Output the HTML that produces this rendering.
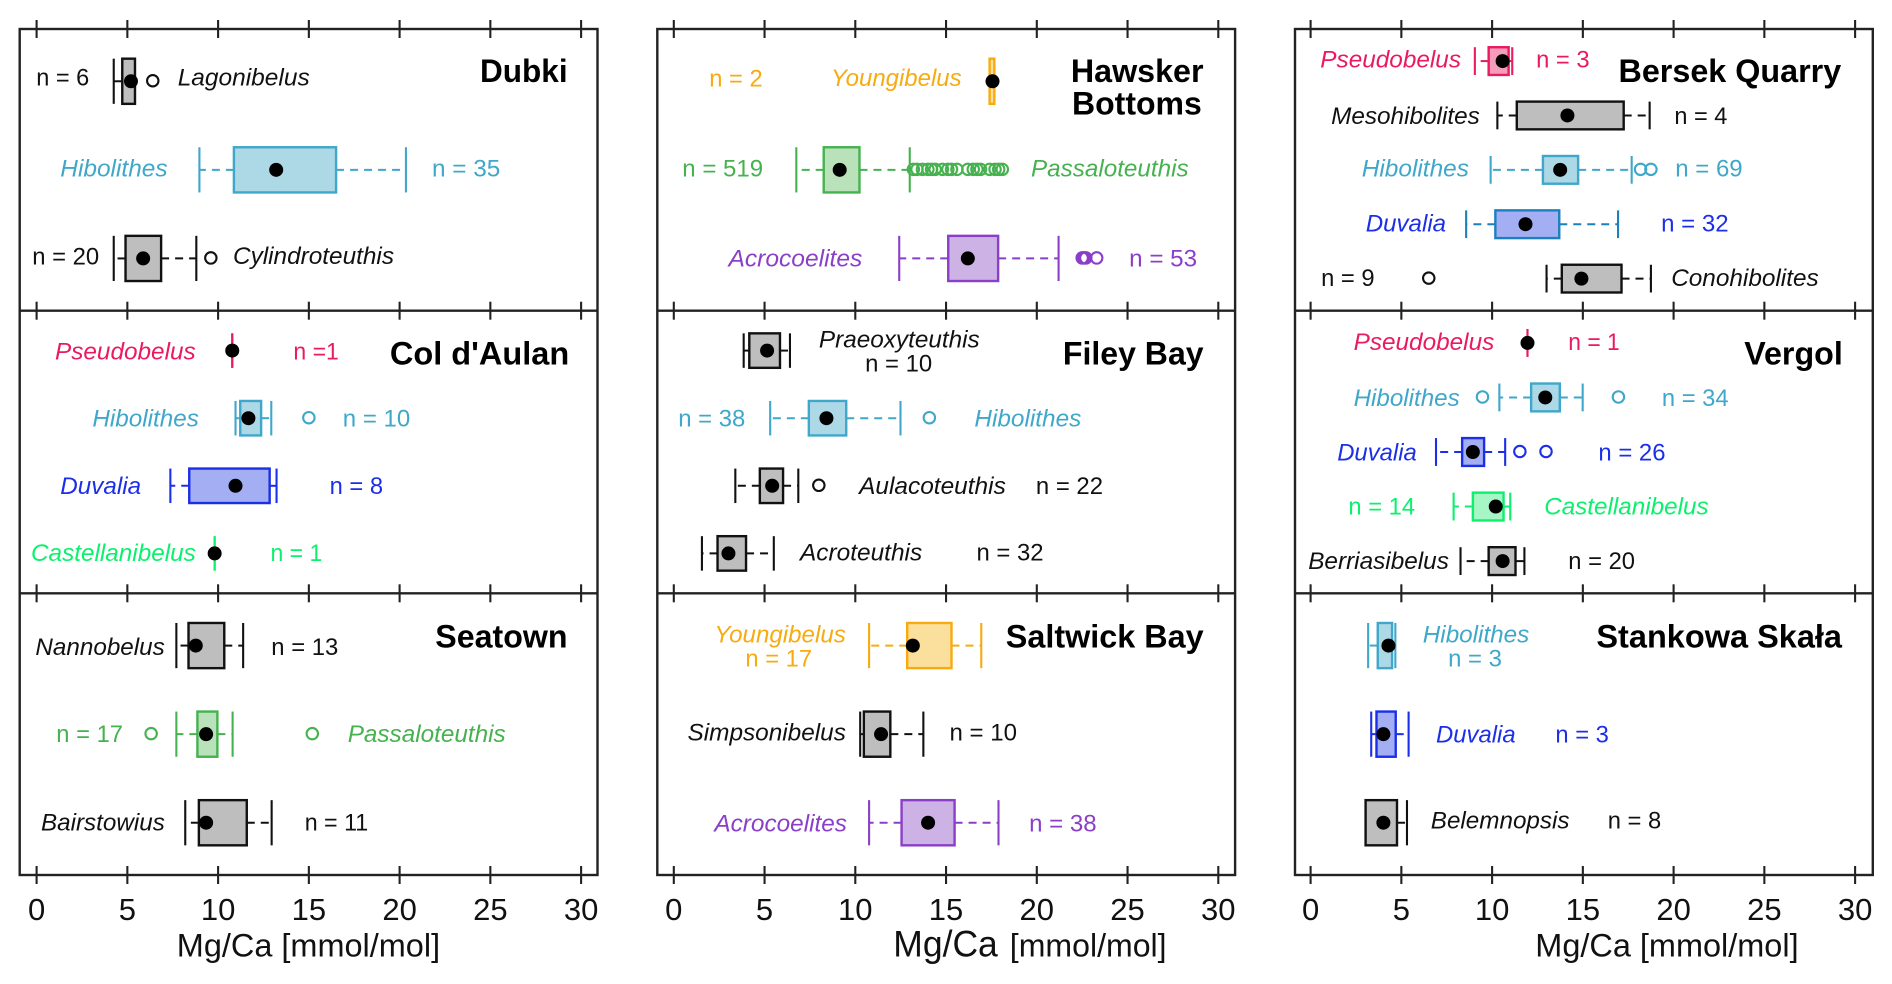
<!DOCTYPE html>
<html lang="en">
<head>
<meta charset="utf-8">
<title>Mg/Ca by taxon and locality</title>
<style>
html,body{margin:0;padding:0;background:#fff;}
svg{display:block;filter:blur(0.35px);}
text{font-family:"Liberation Sans",Arial,sans-serif;font-size:24px;fill:#111;}
.i{font-style:italic;font-size:24.5px;}
.t{font-weight:bold;font-size:32.5px;fill:#000;}
.tick{font-size:31px;fill:#111;text-anchor:middle;}
.hib{fill:#3fa7c9;}.pas{fill:#46b24f;}.acr{fill:#8b3fc8;}.you{fill:#f7ab10;}
.pse{fill:#ea1a5f;}.duv{fill:#1c2fe8;}.cas{fill:#0cf06e;}
</style>
</head>
<body>
<svg id="chart" xmlns="http://www.w3.org/2000/svg" width="1892" height="984" viewBox="0 0 1892 984">
<rect x="0" y="0" width="1892" height="984" fill="#fff"/>
<g id="marks"></g>
<g>
<text class="t" x="480" y="82" textLength="87.6" lengthAdjust="spacingAndGlyphs">Dubki</text>
<text x="36.2" y="85.3" textLength="53" lengthAdjust="spacingAndGlyphs">n = 6</text>
<text class="i" x="177.7" y="85.3" textLength="132" lengthAdjust="spacingAndGlyphs">Lagonibelus</text>
<text class="i hib" x="60.3" y="176.7" textLength="107.3" lengthAdjust="spacingAndGlyphs">Hibolithes</text>
<text class="hib" x="432" y="176.7" textLength="68.3" lengthAdjust="spacingAndGlyphs">n = 35</text>
<text x="32.2" y="264.3" textLength="67" lengthAdjust="spacingAndGlyphs">n = 20</text>
<text class="i" x="233" y="264" textLength="161" lengthAdjust="spacingAndGlyphs">Cylindroteuthis</text>
</g>
<g>
<text class="t" x="389.9" y="364.3" textLength="179.3" lengthAdjust="spacingAndGlyphs">Col d'Aulan</text>
<text class="i pse" x="55" y="359.3" textLength="140.7" lengthAdjust="spacingAndGlyphs">Pseudobelus</text>
<text class="pse" x="293.4" y="359.3" textLength="45.4" lengthAdjust="spacingAndGlyphs">n =1</text>
<text class="i hib" x="92.4" y="426.7" textLength="106.5" lengthAdjust="spacingAndGlyphs">Hibolithes</text>
<text class="hib" x="342.8" y="426.7" textLength="67.5" lengthAdjust="spacingAndGlyphs">n = 10</text>
<text class="i duv" x="60.3" y="494" textLength="80.8" lengthAdjust="spacingAndGlyphs">Duvalia</text>
<text class="duv" x="329.6" y="494" textLength="53.5" lengthAdjust="spacingAndGlyphs">n = 8</text>
<text class="i cas" x="31" y="561" textLength="164.8" lengthAdjust="spacingAndGlyphs">Castellanibelus</text>
<text class="cas" x="270.5" y="561" textLength="51.8" lengthAdjust="spacingAndGlyphs">n = 1</text>
</g>
<g>
<text class="t" x="435.3" y="647.7" textLength="132.2" lengthAdjust="spacingAndGlyphs">Seatown</text>
<text class="i" x="35.4" y="655" textLength="129.4" lengthAdjust="spacingAndGlyphs">Nannobelus</text>
<text x="271.3" y="655" textLength="67" lengthAdjust="spacingAndGlyphs">n = 13</text>
<text class="pas" x="56.3" y="742" textLength="66.7" lengthAdjust="spacingAndGlyphs">n = 17</text>
<text class="i pas" x="347.7" y="742" textLength="158" lengthAdjust="spacingAndGlyphs">Passaloteuthis</text>
<text class="i" x="41" y="830.7" textLength="123.8" lengthAdjust="spacingAndGlyphs">Bairstowius</text>
<text x="304.7" y="830.7" textLength="63.5" lengthAdjust="spacingAndGlyphs">n = 11</text>
</g>
<g>
<text class="t" x="1070.9" y="82" textLength="132.6" lengthAdjust="spacingAndGlyphs">Hawsker</text>
<text class="t" x="1072" y="114.3" textLength="129.8" lengthAdjust="spacingAndGlyphs">Bottoms</text>
<text class="you" x="709.2" y="86.7" textLength="53.5" lengthAdjust="spacingAndGlyphs">n = 2</text>
<text class="i you" x="831" y="86" textLength="130.6" lengthAdjust="spacingAndGlyphs">Youngibelus</text>
<text class="pas" x="682.3" y="176.7" textLength="80.8" lengthAdjust="spacingAndGlyphs">n = 519</text>
<text class="i pas" x="1031" y="176.7" textLength="157.6" lengthAdjust="spacingAndGlyphs">Passaloteuthis</text>
<text class="i acr" x="728.5" y="266.7" textLength="133.8" lengthAdjust="spacingAndGlyphs">Acrocoelites</text>
<text class="acr" x="1129.2" y="266.7" textLength="67.9" lengthAdjust="spacingAndGlyphs">n = 53</text>
</g>
<g>
<text class="t" x="1062.9" y="364.3" textLength="140.7" lengthAdjust="spacingAndGlyphs">Filey Bay</text>
<text class="i" x="818.9" y="347.7" textLength="160.8" lengthAdjust="spacingAndGlyphs">Praeoxyteuthis</text>
<text x="865.1" y="371.7" textLength="67.1" lengthAdjust="spacingAndGlyphs">n = 10</text>
<text class="hib" x="678.2" y="426.7" textLength="67.1" lengthAdjust="spacingAndGlyphs">n = 38</text>
<text class="i hib" x="974.4" y="426.7" textLength="106.9" lengthAdjust="spacingAndGlyphs">Hibolithes</text>
<text class="i" x="859.1" y="494" textLength="146.7" lengthAdjust="spacingAndGlyphs">Aulacoteuthis</text>
<text x="1035.9" y="494" textLength="67.1" lengthAdjust="spacingAndGlyphs">n = 22</text>
<text class="i" x="800" y="560.7" textLength="122.2" lengthAdjust="spacingAndGlyphs">Acroteuthis</text>
<text x="976.5" y="560.7" textLength="67.1" lengthAdjust="spacingAndGlyphs">n = 32</text>
</g>
<g>
<text class="t" x="1005.8" y="647.7" textLength="197.8" lengthAdjust="spacingAndGlyphs">Saltwick Bay</text>
<text class="i you" x="714.4" y="642.3" textLength="131.4" lengthAdjust="spacingAndGlyphs">Youngibelus</text>
<text class="you" x="745.4" y="666.7" textLength="66.7" lengthAdjust="spacingAndGlyphs">n = 17</text>
<text class="i" x="687.5" y="740.7" textLength="158.4" lengthAdjust="spacingAndGlyphs">Simpsonibelus</text>
<text x="949.5" y="740.7" textLength="67.5" lengthAdjust="spacingAndGlyphs">n = 10</text>
<text class="i acr" x="714.4" y="831.3" textLength="132.6" lengthAdjust="spacingAndGlyphs">Acrocoelites</text>
<text class="acr" x="1029.1" y="831.3" textLength="67.5" lengthAdjust="spacingAndGlyphs">n = 38</text>
</g>
<g>
<text class="t" x="1618.5" y="82" textLength="222.7" lengthAdjust="spacingAndGlyphs">Bersek Quarry</text>
<text class="i pse" x="1320.3" y="67.3" textLength="140.7" lengthAdjust="spacingAndGlyphs">Pseudobelus</text>
<text class="pse" x="1536.1" y="67.3" textLength="53.5" lengthAdjust="spacingAndGlyphs">n = 3</text>
<text class="i" x="1331.1" y="124" textLength="148.7" lengthAdjust="spacingAndGlyphs">Mesohibolites</text>
<text x="1674.4" y="124" textLength="53" lengthAdjust="spacingAndGlyphs">n = 4</text>
<text class="i hib" x="1361.7" y="176.7" textLength="107.3" lengthAdjust="spacingAndGlyphs">Hibolithes</text>
<text class="hib" x="1675.2" y="176.7" textLength="67.5" lengthAdjust="spacingAndGlyphs">n = 69</text>
<text class="i duv" x="1365.7" y="231.7" textLength="80.4" lengthAdjust="spacingAndGlyphs">Duvalia</text>
<text class="duv" x="1661.1" y="231.7" textLength="67.5" lengthAdjust="spacingAndGlyphs">n = 32</text>
<text x="1321.1" y="286" textLength="53.5" lengthAdjust="spacingAndGlyphs">n = 9</text>
<text class="i" x="1671.2" y="286" textLength="147.5" lengthAdjust="spacingAndGlyphs">Conohibolites</text>
</g>
<g>
<text class="t" x="1744.3" y="364.3" textLength="98.5" lengthAdjust="spacingAndGlyphs">Vergol</text>
<text class="i pse" x="1353.6" y="350" textLength="140.7" lengthAdjust="spacingAndGlyphs">Pseudobelus</text>
<text class="pse" x="1568.3" y="350" textLength="51.4" lengthAdjust="spacingAndGlyphs">n = 1</text>
<text class="i hib" x="1353.6" y="406" textLength="106.1" lengthAdjust="spacingAndGlyphs">Hibolithes</text>
<text class="hib" x="1661.9" y="406" textLength="66.7" lengthAdjust="spacingAndGlyphs">n = 34</text>
<text class="i duv" x="1337.2" y="460.7" textLength="79.6" lengthAdjust="spacingAndGlyphs">Duvalia</text>
<text class="duv" x="1598.4" y="460.7" textLength="67.1" lengthAdjust="spacingAndGlyphs">n = 26</text>
<text class="cas" x="1348.4" y="514.3" textLength="66.7" lengthAdjust="spacingAndGlyphs">n = 14</text>
<text class="i cas" x="1544.2" y="514.3" textLength="164.4" lengthAdjust="spacingAndGlyphs">Castellanibelus</text>
<text class="i" x="1308.2" y="569" textLength="140.7" lengthAdjust="spacingAndGlyphs">Berriasibelus</text>
<text x="1568.3" y="569" textLength="66.7" lengthAdjust="spacingAndGlyphs">n = 20</text>
</g>
<g>
<text class="t" x="1596.4" y="647.7" textLength="245.6" lengthAdjust="spacingAndGlyphs">Stankowa Skała</text>
<text class="i hib" x="1422.8" y="642.3" textLength="106.5" lengthAdjust="spacingAndGlyphs">Hibolithes</text>
<text class="hib" x="1448.1" y="666.7" textLength="53.9" lengthAdjust="spacingAndGlyphs">n = 3</text>
<text class="i duv" x="1436" y="742.7" textLength="79.6" lengthAdjust="spacingAndGlyphs">Duvalia</text>
<text class="duv" x="1555.4" y="742.7" textLength="53.5" lengthAdjust="spacingAndGlyphs">n = 3</text>
<text class="i" x="1430.8" y="828.7" textLength="138.7" lengthAdjust="spacingAndGlyphs">Belemnopsis</text>
<text x="1607.7" y="828.7" textLength="53.5" lengthAdjust="spacingAndGlyphs">n = 8</text>
</g>
<g>
<text style="font-size:32.5px" x="176.8" y="956.7" textLength="263.3" lengthAdjust="spacingAndGlyphs">Mg/Ca [mmol/mol]</text>
<text style="font-size:37px" x="893.3" y="956.7" textLength="104.5" lengthAdjust="spacingAndGlyphs">Mg/Ca</text>
<text style="font-size:32.5px" x="1009.8" y="956.7" textLength="156.8" lengthAdjust="spacingAndGlyphs">[mmol/mol]</text>
<text style="font-size:32.5px" x="1535.3" y="956.7" textLength="263.3" lengthAdjust="spacingAndGlyphs">Mg/Ca [mmol/mol]</text>
</g>
</svg>
<script>
// Chart data: one entry per panel (column by column), one value per taxon row (top to bottom).
const tickValues = [0, 5, 10, 15, 20, 25, 30];
const tickLabels = ['0', '5', '10', '15', '20', '25', '30'];
const panelNames = ['Dubki', "Col d'Aulan", 'Seatown', 'Hawsker Bottoms', 'Filey Bay', 'Saltwick Bay', 'Bersek Quarry', 'Vergol', 'Stankowa Skala'];
const taxa = [
  ['Lagonibelus', 'Hibolithes', 'Cylindroteuthis'],
  ['Pseudobelus', 'Hibolithes', 'Duvalia', 'Castellanibelus'],
  ['Nannobelus', 'Passaloteuthis', 'Bairstowius'],
  ['Youngibelus', 'Passaloteuthis', 'Acrocoelites'],
  ['Praeoxyteuthis', 'Hibolithes', 'Aulacoteuthis', 'Acroteuthis'],
  ['Youngibelus', 'Simpsonibelus', 'Acrocoelites'],
  ['Pseudobelus', 'Mesohibolites', 'Hibolithes', 'Duvalia', 'Conohibolites'],
  ['Pseudobelus', 'Hibolithes', 'Duvalia', 'Castellanibelus', 'Berriasibelus'],
  ['Hibolithes', 'Duvalia', 'Belemnopsis']
];
const whiskerLow = [
  [4.25, 8.97, 4.25],
  [10.78, 10.96, 7.37, 9.81],
  [7.7, 7.7, 8.19],
  [17.4, 6.75, 12.42],
  [3.85, 5.31, 3.39, 1.55],
  [10.76, 10.27, 10.76],
  [9.05, 10.29, 9.92, 8.57, 13.0],
  [11.95, 10.4, 6.91, 7.88, 8.26],
  [3.17, 3.34, 3.03]
];
const quartile1 = [
  [4.72, 10.87, 4.9],
  [10.78, 11.22, 8.41, 9.81],
  [8.37, 8.86, 8.94],
  [17.4, 8.26, 15.12],
  [4.16, 7.44, 4.74, 2.41],
  [12.86, 10.47, 12.55],
  [9.81, 11.36, 12.8, 10.18, 13.84],
  [11.95, 12.15, 8.35, 8.94, 9.81],
  [3.7, 3.63, 3.03]
];
const medians = [
  [5.2, 13.2, 5.87],
  [10.78, 11.67, 10.96, 9.81],
  [8.77, 9.34, 9.34],
  [17.56, 9.14, 16.2],
  [5.14, 8.41, 5.42, 3.01],
  [13.17, 11.42, 14.01],
  [10.58, 14.15, 13.75, 11.84, 14.92],
  [11.95, 12.93, 8.94, 10.2, 10.58],
  [4.29, 4.01, 4.01]
];
const quartile3 = [
  [5.42, 16.5, 6.86],
  [10.78, 12.37, 12.84, 9.81],
  [10.34, 9.96, 11.58],
  [17.66, 10.23, 17.87],
  [5.85, 9.5, 6.02, 3.98],
  [15.3, 11.93, 15.47],
  [10.91, 17.25, 14.74, 13.7, 17.13],
  [11.95, 13.73, 9.56, 10.63, 11.29],
  [4.49, 4.69, 4.76]
];
const whiskerHigh = [
  [5.42, 20.35, 8.8],
  [10.78, 12.93, 13.22, 9.81],
  [11.38, 10.8, 12.95],
  [17.66, 13.0, 21.2],
  [6.4, 12.49, 6.86, 5.51],
  [16.94, 13.75, 17.89],
  [11.11, 18.68, 17.69, 16.94, 18.75],
  [11.95, 14.99, 10.72, 11.0, 11.78],
  [4.67, 5.4, 5.31]
];
const outliers = [
  [[6.4], [], [9.6]],
  [[], [15.0], [], []],
  [[], [6.31, 15.19], []],
  [[], [13.2, 13.4, 13.7, 14.0, 14.2, 14.4, 14.8, 15.1, 15.3, 15.6, 16.2, 16.5, 16.7, 16.9, 17.4, 17.7, 17.9, 18.1], [22.5, 22.6, 22.7, 23.3]],
  [[], [14.08], [7.99], []],
  [[], [], []],
  [[], [], [18.18, 18.75], [], [6.51]],
  [[], [9.47, 16.96], [11.53, 12.97], [], []],
  [[], [], []]
];

// Styling and layout, kept apart from the data.
const SVG_NS = 'http://www.w3.org/2000/svg';
const inkByTaxon = {
  Hibolithes: ['#3fa7c9', '#add8e6'],
  Passaloteuthis: ['#46b24f', '#b9e1ba'],
  Acrocoelites: ['#8b3fc8', '#cdb2e6'],
  Youngibelus: ['#f7ab10', '#fbdf9c'],
  Pseudobelus: ['#ea1a5f', '#f59cbb'],
  Duvalia: ['#1c2fe8', '#a3aef3'],
  Castellanibelus: ['#0cf06e', '#a6f6c6']
};
function taxonInk(panelName, taxon) {
  if (panelName === 'Bersek Quarry' && taxon === 'Duvalia') return ['#1b80bd', '#a3aef3'];
  return inkByTaxon[taxon] || ['#111', '#bebebe'];
}
function columnOf(p) { return Math.floor(p / 3); }
function rowOf(p) { return p % 3; }
function axisX(col, value) {
  const zero = col === 0 ? 36.6 : col === 1 ? 673.8 : 1310.6;
  return zero + value * 18.15;
}
function frameEdge(col, side) {
  const left = col === 0 ? 19.7 : col === 1 ? 657.3 : 1295;
  return side === 0 ? left : left + 577.8;
}
function lineY(k) { return k === 0 ? 29 : k === 1 ? 310.7 : k === 2 ? 593.3 : 875; }
function rowStep(p) { return (lineY(rowOf(p) + 1) - lineY(rowOf(p))) / (taxa[p].length + 0.18); }
function rowY(p, i) { return lineY(rowOf(p)) + rowStep(p) * (0.59 + i); }
function make(parent, tag, attrs) {
  const el = document.createElementNS(SVG_NS, tag);
  for (const k in attrs) el.setAttribute(k, attrs[k]);
  parent.appendChild(el);
  return el;
}

const marks = document.getElementById('marks');

// Panel boxplots
panelNames.forEach(function (panelName, p) {
  const col = columnOf(p);
  const panel = make(marks, 'g', {});
  
  
  taxa[p].forEach(function (taxon, i) {
    const ink = taxonInk(panelName, taxon);
    const cy = rowY(p, i);
    const halfH = rowStep(p) * 0.255;
    const x = function (v) { return axisX(col, v); };
    const grp = make(panel, 'g', {});
    
    

    const wl = make(grp, 'line', { x1: x(quartile1[p][i]), x2: x(whiskerLow[p][i]), y1: cy, y2: cy, stroke: ink[0], 'stroke-width': 2, 'stroke-dasharray': '8 6' });
    
    
    const wh = make(grp, 'line', { x1: x(quartile3[p][i]), x2: x(whiskerHigh[p][i]), y1: cy, y2: cy, stroke: ink[0], 'stroke-width': 2, 'stroke-dasharray': '8 6' });
    
    
    const cl = make(grp, 'line', { x1: x(whiskerLow[p][i]), x2: x(whiskerLow[p][i]), y1: cy - halfH, y2: cy + halfH, stroke: ink[0], 'stroke-width': 2.1 });
    
    
    const ch = make(grp, 'line', { x1: x(whiskerHigh[p][i]), x2: x(whiskerHigh[p][i]), y1: cy - halfH, y2: cy + halfH, stroke: ink[0], 'stroke-width': 2.1 });
    
    
    const box = make(grp, 'rect', { x: x(quartile1[p][i]), y: cy - halfH, width: x(quartile3[p][i]) - x(quartile1[p][i]), height: halfH * 2, fill: ink[1], stroke: ink[0], 'stroke-width': 2.4 });
    
    
    outliers[p][i].forEach(function (v) {
      const o = make(grp, 'circle', { cx: x(v), cy: cy - 0.5, r: 5.7, fill: 'none', stroke: ink[0], 'stroke-width': 2.1 });
      
      
    });
    const dot = make(grp, 'circle', { cx: x(medians[p][i]), cy: cy, r: 7, fill: '#000' });
    
    
  });
});

// Frames and axes
[0, 1, 2].forEach(function (col) {
  const L = frameEdge(col, 0);
  const R = frameEdge(col, 1);
  const frame = make(marks, 'rect', { x: L, y: lineY(0), width: R - L, height: lineY(3) - lineY(0), fill: 'none', stroke: '#222', 'stroke-width': 2.4 });
  
  
  [0, 1, 2, 3].forEach(function (k) {
    if (k === 1 || k === 2) {
      const sep = make(marks, 'line', { x1: L, x2: R, y1: lineY(k), y2: lineY(k), stroke: '#222', 'stroke-width': 2.4 });
      
      
    }
    tickValues.forEach(function (v) {
      const t = make(marks, 'line', { x1: axisX(col, v), x2: axisX(col, v), y1: lineY(k) - 9, y2: lineY(k) + 9, stroke: '#222', 'stroke-width': 2.1 });
      
      
    });
  });
  tickLabels.forEach(function (label, j) {
    const tl = make(marks, 'text', { x: axisX(col, tickValues[j]), y: 920, class: 'tick' });
    tl.textContent = label;
    
    
  });
});
</script>
</body>
</html>
